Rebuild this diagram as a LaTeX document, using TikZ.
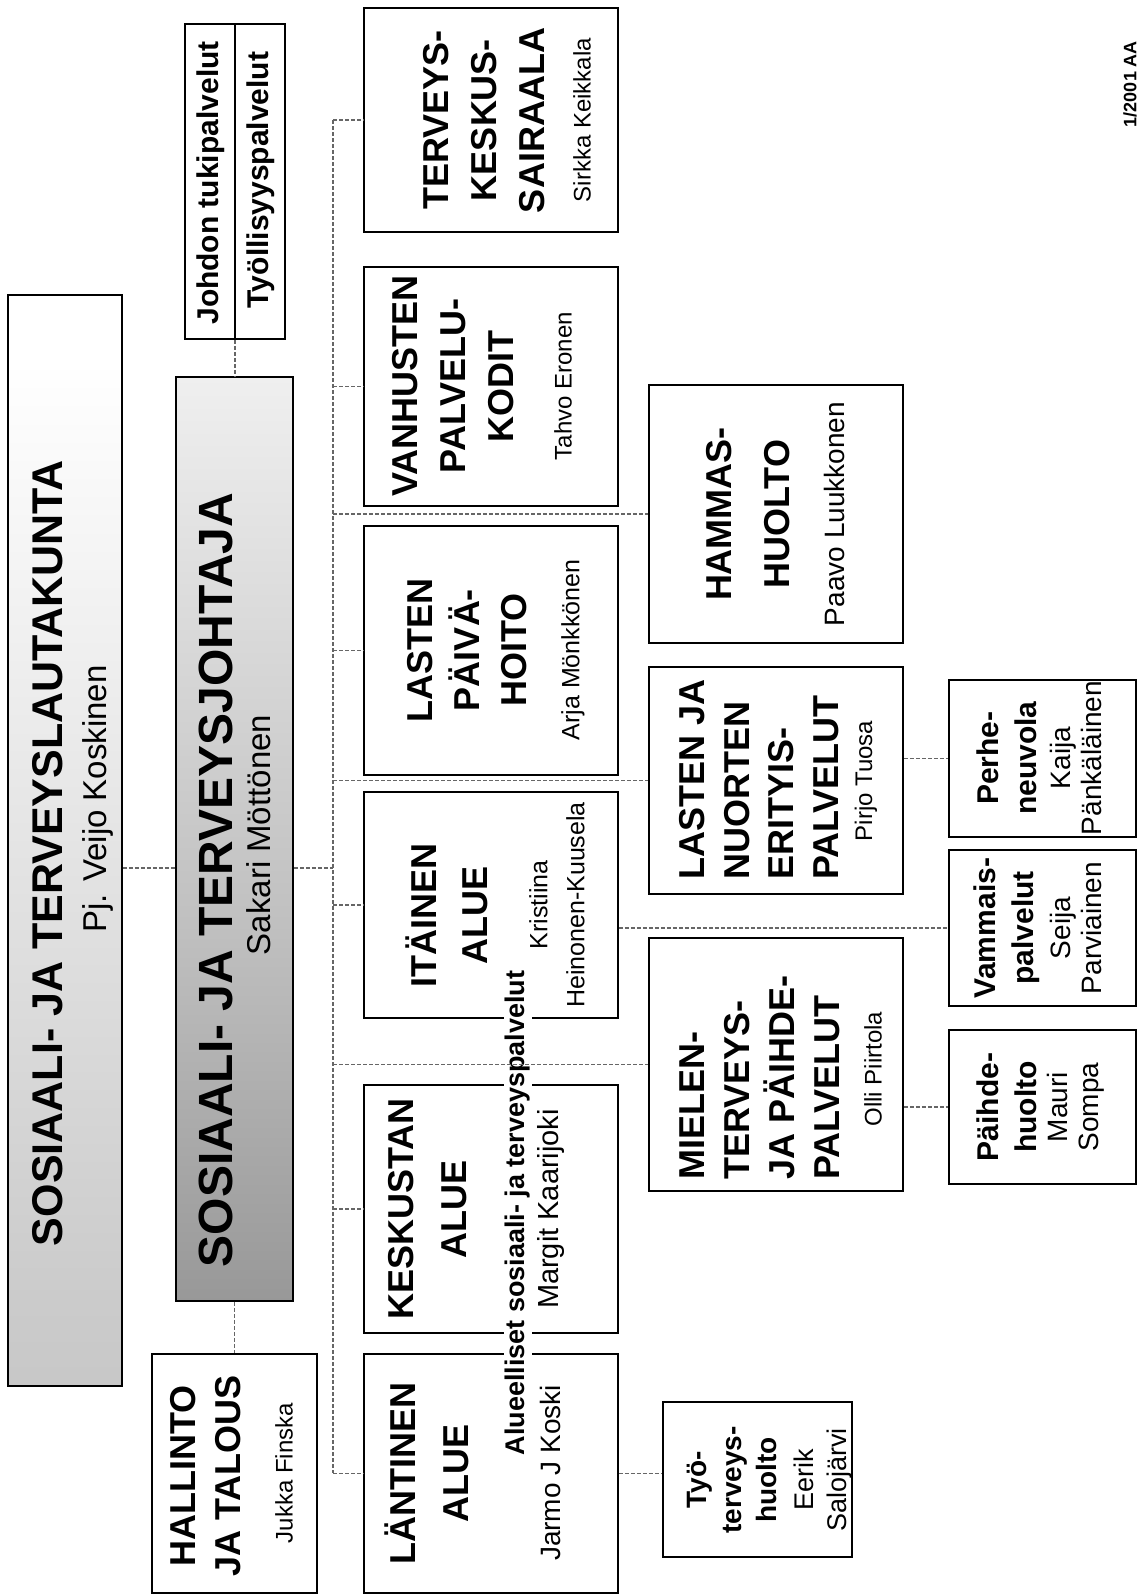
\documentclass[tikz,border=0pt]{standalone}
\usepackage{fontspec}
\setmainfont{Liberation Sans}
\usetikzlibrary{calc}
\pgfdeclareverticalshading{lautashade}{100bp}{color(0bp)=(black!30); color(30bp)=(black!20); color(55bp)=(black!8); color(72bp)=(white); color(100bp)=(white)}
\pgfdeclareverticalshading{johtshade}{100bp}{color(0bp)=(black!62); color(15bp)=(black!48); color(45bp)=(black!25); color(72bp)=(black!8); color(86bp)=(white); color(100bp)=(white)}
\tikzset{
 boxst/.style={draw, line width=1.6pt, inner sep=0pt},
 ttl/.style={rotate=90, align=center, inner sep=0pt, font=\fontsize{36}{48}\selectfont\bfseries},
 nm/.style={rotate=90, align=center, inner sep=0pt, font=\fontsize{25}{29}\selectfont},
 sttl/.style={rotate=90, align=center, inner sep=0pt, font=\fontsize{30}{38}\selectfont\bfseries},
 snm/.style={rotate=90, align=center, inner sep=0pt, font=\fontsize{28}{31}\selectfont},
 conn/.style={draw=black!60, line width=1.1pt, dash pattern=on 4pt off 2pt},
}
\newcommand\mkbox[6][]{\node[boxst,#1,minimum width={#5-#3},minimum height={#6-#4}] (#2) at ({(#3+#5)/2},{(#4+#6)/2}) {};}
\newcommand\fs[2]{\fontsize{#1}{#2}\selectfont}
\begin{document}
\begin{tikzpicture}[x=1pt,y=-1pt]
\useasboundingbox (0,0) rectangle (1148,1596);
\fill[white] (0,0) rectangle (1148,1596);
% boxes
\mkbox[shade,shading=lautashade]{lauta}{8}{295}{122}{1386}
\mkbox[shade,shading=johtshade]{joht}{176}{377}{293}{1301}
\mkbox{johdon}{185}{24}{285}{339}
\mkbox{hall}{152}{1354}{317}{1593}
\mkbox{terv}{364}{8}{618}{232}
\mkbox{vanh}{364}{267}{618}{506}
\mkbox{lpv}{364}{526}{618}{775}
\mkbox{ita}{364}{792}{618}{1018}
\mkbox{kesk}{364}{1085}{618}{1333}
\mkbox{lant}{364}{1354}{618}{1593}
\mkbox{hamm}{649}{385}{903}{643}
\mkbox{ljn}{649}{667}{903}{894}
\mkbox{mielen}{649}{938}{903}{1191}
\mkbox{perhe}{949}{680}{1136}{837}
\mkbox{vamm}{949}{850}{1136}{1006}
\mkbox{paihde}{949}{1030}{1136}{1184}
\mkbox{tyo}{663}{1402}{852}{1557}
\draw[line width=1.3pt] (johdon.north) -- (johdon.south);
% texts
\node[ttl, font=\fs{43}{50}\bfseries] (lauta-t) at (48,853) {SOSIAALI- JA TERVEYSLAUTAKUNTA};
\node[nm, font=\fs{33}{38}] (lauta-n) at (98,799) {Pj. Veijo Koskinen};
\node[ttl, font=\fs{48}{54}\bfseries] (joht-t) at (216,880) {SOSIAALI- JA TERVEYSJOHTAJA};
\node[nm, font=\fs{33}{38}] (joht-n) at (259,835) {Sakari Möttönen};
\node[ttl, font=\fs{30}{36}\bfseries] (johdon-a) at (211,183) {Johdon tukipalvelut};
\node[ttl, font=\fs{30}{36}\bfseries] (johdon-b) at (261,180) {Työllisyyspalvelut};
\node[ttl, font=\fs{36}{45}\bfseries] (hall-t) at (206,1476) {HALLINTO\\JA TALOUS};
\node[nm, font=\fs{24}{28}] (hall-n) at (284,1473) {Jukka Finska};
\node[ttl] (terv-t) at (484,120) {TERVEYS-\\KESKUS-\\SAIRAALA};
\node[nm, font=\fs{24}{28}] (terv-n) at (582,120) {Sirkka Keikkala};
\node[ttl] (vanh-t) at (453,386) {VANHUSTEN\\PALVELU-\\KODIT};
\node[nm, font=\fs{24}{28}] (vanh-n) at (563,386) {Tahvo Eronen};
\node[ttl, font=\fs{36}{47}\bfseries] (lpv-t) at (467,650) {LASTEN\\PÄIVÄ-\\HOITO};
\node[nm] (lpv-n) at (573,650) {Arja Mönkkönen};
\node[ttl, font=\fs{36}{51}\bfseries] (ita-t) at (447,915) {ITÄINEN\\ALUE};
\node[nm, font=\fs{25}{37}] (ita-n) at (557,905) {Kristiina\\Heinonen-Kuusela};
\node[ttl, font=\fs{36}{53}\bfseries] (kesk-t) at (428,1209) {KESKUSTAN\\ALUE};
\node[nm, font=\fs{29}{33}] (kesk-n) at (551,1209) {Margit Kaarijoki};
\node[ttl, font=\fs{36}{53}\bfseries] (lant-t) at (427,1473) {LÄNTINEN\\ALUE};
\node[nm, font=\fs{28}{32}] (lant-n) at (550,1473) {Jarmo J Koski};
\node[rotate=90, fill=white, inner sep=1.5pt, font=\fs{27}{30}\bfseries] (alue) at (518,1213) {Alueelliset sosiaali- ja terveyspalvelut};
\node[ttl, font=\fs{36}{58}\bfseries] (hamm-t) at (748,514) {HAMMAS-\\HUOLTO};
\node[nm, font=\fs{28}{32}] (hamm-n) at (834,514) {Paavo Luukkonen};
\node[ttl, align=left, anchor=west, font=\fs{36}{44.5}\bfseries] (ljn-t) at (759,880) {LASTEN JA\\NUORTEN\\ERITYIS-\\PALVELUT};
\node[nm, font=\fs{24}{28}] (ljn-n) at (866,781) {Pirjo Tuosa};
\node[ttl, align=left, anchor=west, font=\fs{36}{45}\bfseries] (mielen-t) at (760,1180) {MIELEN-\\TERVEYS-\\JA PÄIHDE-\\PALVELUT};
\node[nm, font=\fs{24}{28}] (mielen-n) at (873,1069) {Olli Piirtola};
\node[sttl] (perhe-t) at (1007,758) {Perhe-\\neuvola};
\node[snm] (perhe-n) at (1076,758) {Kaija\\Pänkäläinen};
\node[sttl] (vamm-t) at (1007,928) {Vammais-\\palvelut};
\node[snm] (vamm-n) at (1076,928) {Seija\\Parviainen};
\node[sttl] (paihde-t) at (1007,1107) {Päihde-\\huolto};
\node[snm] (paihde-n) at (1076,1107) {Mauri\\Sompa};
\node[sttl, font=\fs{28}{35}\bfseries] (tyo-t) at (732,1480) {Työ-\\terveys-\\huolto};
\node[snm, font=\fs{27}{33}] (tyo-n) at (823,1480) {Eerik\\Salojärvi};
\node[rotate=90, inner sep=0pt, font=\fs{18}{20}\bfseries] (date) at (1130,84) {1/2001 AA};
% connectors
\coordinate (lj) at (150,868);
\coordinate (bt) at (333,120);
\coordinate (bb) at (333,1473);
\draw[conn] (johdon.south) -- (johdon.south |- joht.north);
\draw[conn] (joht.south) -- (joht.south |- hall.north);
\draw[conn] (lj -| lauta.east) -- (lj -| joht.west);
\draw[conn] (lj -| joht.east) -- (lj -| bt);
\draw[conn] (bt) -- (bb);
\foreach \n in {terv,vanh,lpv,ita,kesk,lant,hamm,ljn,mielen} \draw[conn] (\n.west -| bt) -- (\n.west);
\draw[conn] (ita.east |- vamm.west) -- (vamm.west);
\draw[conn] (ljn.east |- perhe.west) -- (perhe.west);
\draw[conn] (mielen.east |- paihde.west) -- (paihde.west);
\draw[conn] (lant.east) -- (lant.east -| tyo.west);
\end{tikzpicture}
\end{document}
